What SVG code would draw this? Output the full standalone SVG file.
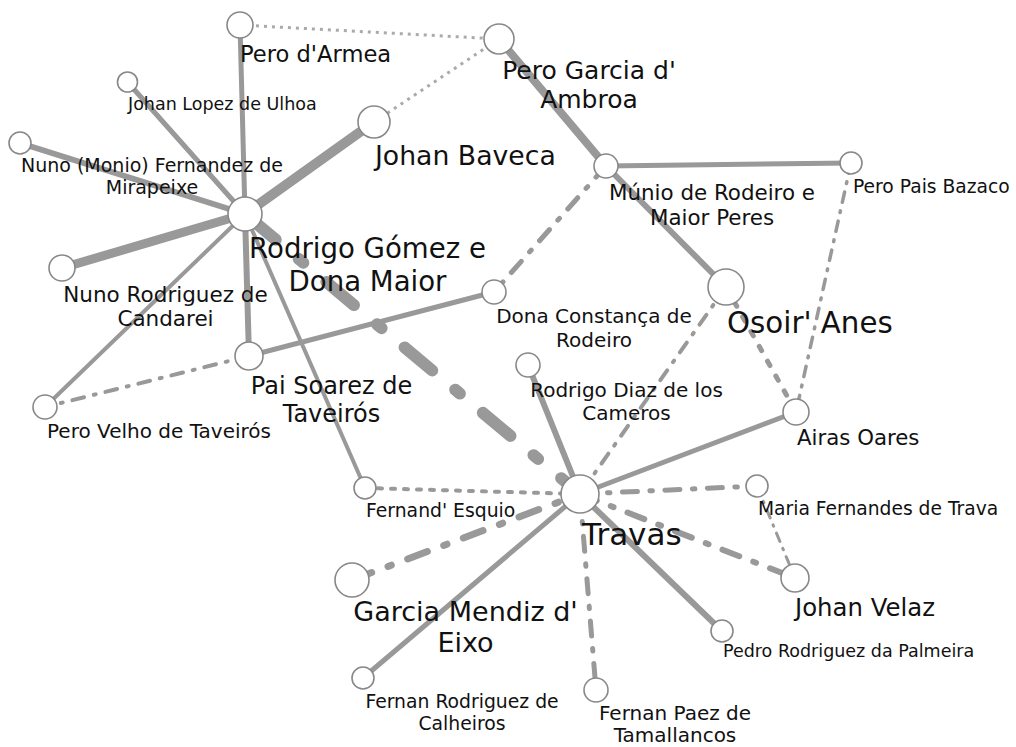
<svg xmlns="http://www.w3.org/2000/svg" width="1016" height="747" viewBox="0 0 1016 747">
<style>
.e{stroke:#999;fill:none;stroke-linecap:round}
.dot{stroke:#aaa;stroke-width:3;stroke-dasharray:3 5;stroke-linecap:butt}
.n{fill:#fff;stroke:#888;stroke-width:1.6}
text{font-family:"DejaVu Sans","Liberation Sans",sans-serif;fill:#111}
.m{text-anchor:middle}
</style>
<rect width="1016" height="747" fill="#fff"/>
<g id="connectors">
<line class="e dot" x1="240" y1="25" x2="499" y2="39"/>
<line class="e dot" x1="374" y1="122" x2="499" y2="39"/>
<line class="e" stroke-width="5" x1="240" y1="25" x2="245" y2="214"/>
<line class="e" stroke-width="5" x1="127.5" y1="82" x2="245" y2="214"/>
<line class="e" stroke-width="6" x1="20" y1="143" x2="245" y2="214"/>
<line class="e" stroke-width="10" x1="374" y1="122" x2="245" y2="214"/>
<line class="e" stroke-width="9" x1="62" y1="268" x2="245" y2="214"/>
<line class="e" stroke-width="4" x1="45" y1="407" x2="245" y2="214"/>
<line class="e" stroke-width="6" x1="249" y1="356" x2="245" y2="214"/>
<line class="e" stroke-width="4" x1="245" y1="214" x2="365" y2="488"/>
<line class="e" stroke-width="12" stroke-dasharray="36 30 6 30" stroke-dashoffset="-4" x1="245" y1="214" x2="580" y2="494"/>
<line class="e" stroke-width="5" x1="249" y1="356" x2="494" y2="292"/>
<line class="e" stroke-width="4" stroke-dasharray="12 10 2 10" x1="249" y1="356" x2="45" y2="407"/>
<line class="e" stroke-width="8" x1="499" y1="39" x2="606" y2="166"/>
<line class="e" stroke-width="6" x1="606" y1="166" x2="726" y2="287"/>
<line class="e" stroke-width="5" x1="606" y1="166" x2="851" y2="163"/>
<line class="e" stroke-width="5" stroke-dasharray="15 12.5 2.5 12.5" x1="606" y1="166" x2="494" y2="292"/>
<line class="e" stroke-width="3.5" stroke-dasharray="10.5 8.75 1.75 8.75" x1="851" y1="163" x2="796" y2="412"/>
<line class="e" stroke-width="5" stroke-dasharray="5 12" x1="726" y1="287" x2="796" y2="412"/>
<line class="e" stroke-width="4" stroke-dasharray="12 10 2 10" x1="726" y1="287" x2="580" y2="494"/>
<line class="e" stroke-width="5" x1="796" y1="412" x2="580" y2="494"/>
<line class="e" stroke-width="6" x1="528" y1="365" x2="580" y2="494"/>
<line class="e" stroke-width="4" stroke-dasharray="4 9" x1="365" y1="488" x2="580" y2="494"/>
<line class="e" stroke-width="7" stroke-dasharray="21 17.5 3.5 17.5" x1="352" y1="580" x2="580" y2="494"/>
<line class="e" stroke-width="5" x1="363" y1="678" x2="580" y2="494"/>
<line class="e" stroke-width="5" stroke-dasharray="15 12.5 2.5 12.5" x1="580" y1="494" x2="596" y2="690"/>
<line class="e" stroke-width="6" x1="580" y1="494" x2="722" y2="631"/>
<line class="e" stroke-width="6" stroke-dasharray="18 15 3 15" x1="580" y1="494" x2="795" y2="578"/>
<line class="e" stroke-width="5" stroke-dasharray="15 12.5 2.5 12.5" x1="580" y1="494" x2="757" y2="486"/>
<line class="e" stroke-width="3" stroke-dasharray="9 7.5 1.5 7.5" x1="757" y1="486" x2="795" y2="578"/>
</g>
<g id="n-pero-darmea"><circle class="n" cx="240" cy="25" r="13"/><text x="240" y="62" font-size="22.6">Pero d'Armea</text></g>
<g id="n-pero-garcia"><circle class="n" cx="499" cy="39" r="15"/><text class="m" x="589" y="79" font-size="25">Pero Garcia d'</text><text class="m" x="589" y="108" font-size="25">Ambroa</text></g>
<g id="n-johan-lopez"><circle class="n" cx="127.5" cy="82" r="10"/><text x="128" y="110" font-size="17.5">Johan Lopez de Ulhoa</text></g>
<g id="n-nuno-monio"><circle class="n" cx="20" cy="143" r="11"/><text class="m" x="152" y="172" font-size="19">Nuno (Monio) Fernandez de</text><text class="m" x="152" y="194" font-size="19">Mirapeixe</text></g>
<g id="n-johan-baveca"><circle class="n" cx="374" cy="122" r="16"/><text x="375" y="165" font-size="26.7">Johan Baveca</text></g>
<g id="n-rodrigo-gomez"><circle class="n" cx="245" cy="214" r="17"/><text class="m" x="367.5" y="258" font-size="27.6">Rodrigo Gómez e</text><text class="m" x="367.5" y="291" font-size="27.6">Dona Maior</text></g>
<g id="n-munio"><circle class="n" cx="606" cy="166" r="12"/><text class="m" x="712" y="200" font-size="21.4">Múnio de Rodeiro e</text><text class="m" x="712" y="225" font-size="21.4">Maior Peres</text></g>
<g id="n-pero-pais"><circle class="n" cx="851" cy="163" r="11"/><text x="853" y="193" font-size="18.7">Pero Pais Bazaco</text></g>
<g id="n-nuno-rodriguez"><circle class="n" cx="62" cy="268" r="13"/><text class="m" x="165.5" y="302" font-size="21.5">Nuno Rodriguez de</text><text class="m" x="165.5" y="326" font-size="21.5">Candarei</text></g>
<g id="n-pai-soarez"><circle class="n" cx="249" cy="356" r="14"/><text class="m" x="331.5" y="394" font-size="24">Pai Soarez de</text><text class="m" x="331.5" y="422" font-size="24">Taveirós</text></g>
<g id="n-pero-velho"><circle class="n" cx="45" cy="407" r="12"/><text x="47" y="438" font-size="20">Pero Velho de Taveirós</text></g>
<g id="n-dona-constanca"><circle class="n" cx="494" cy="292" r="12"/><text class="m" x="594" y="323" font-size="20">Dona Constança de</text><text class="m" x="594" y="347" font-size="20">Rodeiro</text></g>
<g id="n-rodrigo-diaz"><circle class="n" cx="528" cy="365" r="12"/><text class="m" x="626.5" y="397" font-size="20">Rodrigo Diaz de los</text><text class="m" x="626.5" y="420" font-size="20">Cameros</text></g>
<g id="n-osoir-anes"><circle class="n" cx="726" cy="287" r="18"/><text x="727" y="333" font-size="29.3">Osoir' Anes</text></g>
<g id="n-airas-oares"><circle class="n" cx="796" cy="412" r="13"/><text x="797" y="445" font-size="21.3">Airas Oares</text></g>
<g id="n-travas"><circle class="n" cx="580" cy="494" r="19"/><text x="582" y="545" font-size="31">Travas</text></g>
<g id="n-fernand-esquio"><circle class="n" cx="365" cy="488" r="11"/><text x="366" y="517" font-size="18.8">Fernand' Esquio</text></g>
<g id="n-garcia-mendiz"><circle class="n" cx="352" cy="580" r="17"/><text class="m" x="465.5" y="621" font-size="27">Garcia Mendiz d'</text><text class="m" x="465.5" y="652" font-size="27">Eixo</text></g>
<g id="n-fernan-rodriguez"><circle class="n" cx="363" cy="678" r="11"/><text class="m" x="462" y="708" font-size="18.8">Fernan Rodriguez de</text><text class="m" x="462" y="730" font-size="18.8">Calheiros</text></g>
<g id="n-fernan-paez"><circle class="n" cx="596" cy="690" r="12"/><text class="m" x="675" y="720" font-size="20">Fernan Paez de</text><text class="m" x="675" y="742" font-size="20">Tamallancos</text></g>
<g id="n-maria-fernandes"><circle class="n" cx="757" cy="486" r="11"/><text x="758" y="515" font-size="18.7">Maria Fernandes de Trava</text></g>
<g id="n-johan-velaz"><circle class="n" cx="795" cy="578" r="14"/><text x="795" y="616" font-size="24.4">Johan Velaz</text></g>
<g id="n-pedro-rodriguez"><circle class="n" cx="722" cy="631" r="11"/><text x="723" y="657" font-size="17.5">Pedro Rodriguez da Palmeira</text></g>
</svg>
